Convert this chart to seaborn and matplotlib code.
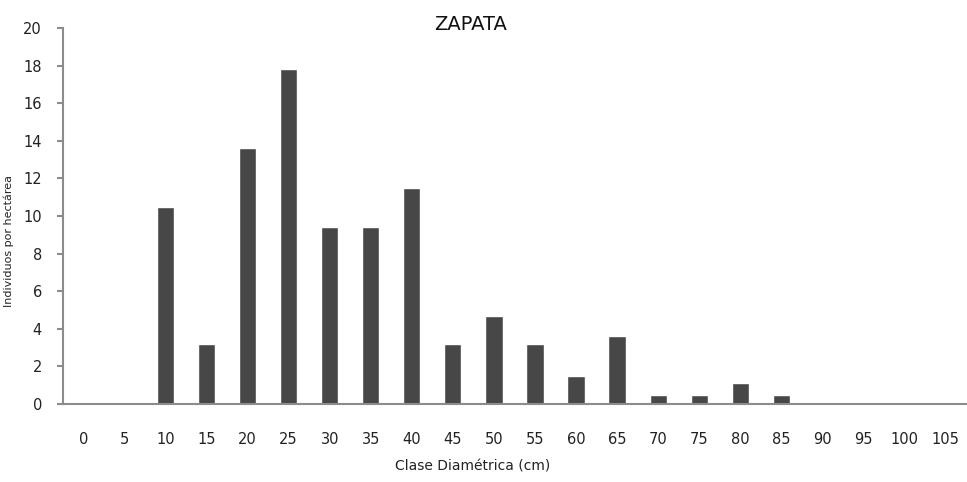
import numpy as np
import pandas as pd
import matplotlib
matplotlib.use("Agg")
import matplotlib.pyplot as plt
import seaborn as sns

# ── Data ───────────────────────────────────────────────────────────────────────
clases = ["0", "5", "10", "15", "20", "25", "30", "35", "40", "45", "50",
          "55", "60", "65", "70", "75", "80", "85", "90", "95", "100", "105"]
individuos = [0, 0, 10.5, 3.2, 13.6, 17.8, 9.4, 9.4, 11.5, 3.2, 4.7,
              3.2, 1.5, 3.6, 0.5, 0.5, 1.1, 0.5, 0, 0, 0, 0]
y_ticks = [0, 2, 4, 6, 8, 10, 12, 14, 16, 18, 20]

df = pd.DataFrame({"clase": clases, "ind": individuos})

# ── Plot ───────────────────────────────────────────────────────────────────────
sns.set_style("white")
plt.rcParams["font.family"] = ["DejaVu Sans"]

fig = plt.figure(figsize=(9.67, 4.82), dpi=100)
ax = fig.add_axes([0.065, 0.162, 0.934, 0.78])

sns.barplot(data=df, x="clase", y="ind", order=clases, color="#474747",
            width=0.42, saturation=1, ax=ax)

axis_grey = "#8c8c8c"
ax.set_xlim(-0.5, len(clases) - 0.5)
ax.set_ylim(0, 20)
ax.set_yticks(y_ticks)
ax.set_yticklabels([str(t) for t in y_ticks], fontsize=10.5, color="#222222")
ax.set_xticks(range(len(clases)))
ax.set_xticklabels(clases, fontsize=10.5, color="#222222")
ax.set_xticks(np.arange(-0.5, len(clases)), minor=True)
ax.tick_params(axis="x", which="major", length=0, pad=20)
ax.tick_params(axis="x", which="minor", length=5, width=1.5, color=axis_grey,
               direction="out")
ax.tick_params(axis="y", length=4, width=1.5, color=axis_grey, pad=11,
               direction="out", left=True)

sns.despine(ax=ax, top=True, right=True)
for side in ["left", "bottom"]:
    ax.spines[side].set_color(axis_grey)
    ax.spines[side].set_linewidth(1.5)

ax.set_xlabel("")
ax.set_ylabel("")
fig.text(0.489, 0.032, "Clase Diamétrica (cm)", ha="center", va="center",
         fontsize=10, color="#222222")
fig.text(0.009, 0.50, "Individuos por hectárea", ha="center", va="center",
         rotation=90, fontsize=8, color="#222222")
fig.text(0.487, 0.95, "ZAPATA", ha="center", va="center", fontsize=14,
         color="#111111")

plt.savefig("out.png", dpi=100)
plt.close()
